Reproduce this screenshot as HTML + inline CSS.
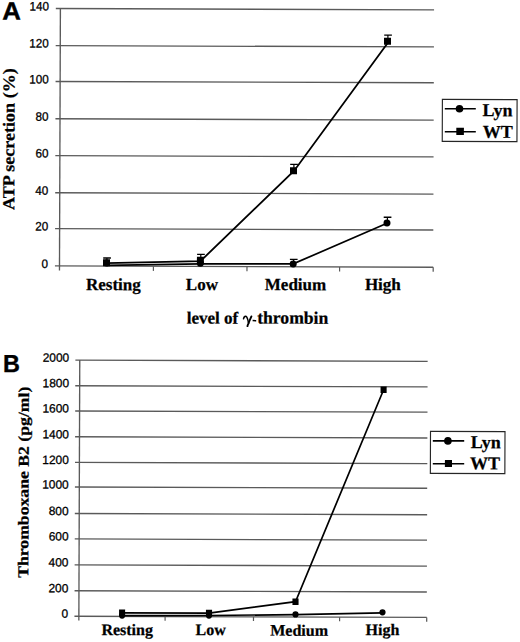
<!DOCTYPE html>
<html><head><meta charset="utf-8"><style>
html,body{margin:0;padding:0;background:#fff;}
body{width:520px;height:642px;overflow:hidden;}
svg{display:block;}
.num{font-family:"Liberation Sans",sans-serif;font-size:12.3px;fill:#000;stroke:#000;stroke-width:0.3px;}
.ttl{font-family:"Liberation Serif",serif;font-weight:bold;fill:#000;stroke:#000;stroke-width:0.25px;}
.pl{font-family:"Liberation Sans",sans-serif;font-weight:bold;fill:#000;stroke:#000;stroke-width:0.4px;}
</style></head><body>
<svg width="520" height="642" viewBox="0 0 520 642">
<g transform="rotate(0.2005 260 321)">
<line x1="54.75" y1="266.65" x2="433.00" y2="266.65" stroke="#5a5a5a" stroke-width="1.35"/>
<text transform="translate(47.90 268.65) scale(0.95 1)" class="num" text-anchor="end">0</text>
<line x1="54.75" y1="229.38" x2="433.00" y2="229.38" stroke="#5a5a5a" stroke-width="1.35"/>
<text transform="translate(47.90 231.38) scale(0.95 1)" class="num" text-anchor="end">20</text>
<line x1="54.75" y1="193.46" x2="433.00" y2="193.46" stroke="#5a5a5a" stroke-width="1.35"/>
<text transform="translate(47.90 195.46) scale(0.95 1)" class="num" text-anchor="end">40</text>
<line x1="54.75" y1="156.34" x2="433.00" y2="156.34" stroke="#5a5a5a" stroke-width="1.35"/>
<text transform="translate(47.90 158.34) scale(0.95 1)" class="num" text-anchor="end">60</text>
<line x1="54.75" y1="119.51" x2="433.00" y2="119.51" stroke="#5a5a5a" stroke-width="1.35"/>
<text transform="translate(47.90 121.51) scale(0.95 1)" class="num" text-anchor="end">80</text>
<line x1="54.75" y1="82.19" x2="433.00" y2="82.19" stroke="#5a5a5a" stroke-width="1.35"/>
<text transform="translate(47.90 84.19) scale(0.95 1)" class="num" text-anchor="end">100</text>
<line x1="54.75" y1="46.32" x2="433.00" y2="46.32" stroke="#5a5a5a" stroke-width="1.35"/>
<text transform="translate(47.90 48.32) scale(0.95 1)" class="num" text-anchor="end">120</text>
<line x1="54.75" y1="9.25" x2="433.00" y2="9.25" stroke="#5a5a5a" stroke-width="1.35"/>
<text transform="translate(47.90 11.25) scale(0.95 1)" class="num" text-anchor="end">140</text>
<line x1="59.30" y1="9.25" x2="59.30" y2="271.25" stroke="#5a5a5a" stroke-width="1.35"/>
<line x1="153.21" y1="266.65" x2="153.21" y2="271.25" stroke="#5a5a5a" stroke-width="1.2"/>
<line x1="246.81" y1="266.65" x2="246.81" y2="271.25" stroke="#5a5a5a" stroke-width="1.2"/>
<line x1="339.41" y1="266.65" x2="339.41" y2="271.25" stroke="#5a5a5a" stroke-width="1.2"/>
<line x1="433.01" y1="266.65" x2="433.01" y2="271.25" stroke="#5a5a5a" stroke-width="1.2"/>
<text transform="translate(13.76 140.01) rotate(-90) scale(1.075 1)" class="ttl" style="font-size:16.8px" text-anchor="middle">ATP secretion (%)</text>
<text x="85.89" y="290.61" class="ttl" font-size="17">Resting</text>
<text x="185.69" y="290.26" class="ttl" font-size="17">Low</text>
<text x="264.69" y="289.98" class="ttl" font-size="17">Medium</text>
<text x="364.79" y="289.63" class="ttl" font-size="17">High</text>
<text x="186.71" y="323.76" class="ttl" font-size="17">level of</text>
<path d="M243.5 318.9 C243.9 316.6 245.6 315.5 246.8 317.2 C247.7 318.7 248.2 321 248.6 323.4" stroke="#000" stroke-width="1.5" fill="none" stroke-linecap="round"/>
<path d="M251.4 316.5 C250.4 318.8 249.1 321.8 248.4 323.6 C247.9 324.8 247.5 325.6 247.5 326.2" stroke="#000" stroke-width="1.9" fill="none" stroke-linecap="round"/>
<rect x="252.6" y="319.9" width="3.6" height="1.5" fill="#000"/>
<text x="257.21" y="323.51" class="ttl" font-size="17.6">thrombin</text>
<polyline points="106.51,265.94 200.30,264.01 293.00,263.78 386.66,222.86" fill="none" stroke="#000" stroke-width="1.7"/>
<polyline points="106.50,263.74 200.29,261.31 293.67,170.58 387.82,41.05" fill="none" stroke="#000" stroke-width="1.8"/>
<circle cx="106.30" cy="263.54" r="3.5" fill="#000"/>
<circle cx="200.20" cy="263.41" r="3.5" fill="#000"/>
<line x1="293.40" y1="263.88" x2="293.38" y2="259.28" stroke="#000" stroke-width="1.2"/>
<line x1="289.68" y1="259.30" x2="297.38" y2="259.27" stroke="#000" stroke-width="1.4"/>
<circle cx="293.00" cy="263.88" r="3.5" fill="#000"/>
<line x1="387.06" y1="222.45" x2="387.04" y2="216.85" stroke="#000" stroke-width="1.2"/>
<line x1="383.34" y1="216.87" x2="391.04" y2="216.84" stroke="#000" stroke-width="1.4"/>
<circle cx="386.66" cy="222.46" r="3.5" fill="#000"/>
<line x1="106.70" y1="263.34" x2="106.68" y2="258.54" stroke="#000" stroke-width="1.2"/>
<line x1="102.98" y1="258.55" x2="110.68" y2="258.52" stroke="#000" stroke-width="1.4"/>
<rect x="102.80" y="259.84" width="7" height="7" fill="#000"/>
<line x1="200.59" y1="260.41" x2="200.57" y2="254.61" stroke="#000" stroke-width="1.2"/>
<line x1="196.87" y1="254.62" x2="204.57" y2="254.59" stroke="#000" stroke-width="1.4"/>
<rect x="196.69" y="256.91" width="7" height="7" fill="#000"/>
<line x1="293.37" y1="170.58" x2="293.35" y2="164.28" stroke="#000" stroke-width="1.2"/>
<line x1="289.65" y1="164.29" x2="297.35" y2="164.27" stroke="#000" stroke-width="1.4"/>
<rect x="289.47" y="167.08" width="7" height="7" fill="#000"/>
<line x1="386.92" y1="40.85" x2="386.90" y2="34.65" stroke="#000" stroke-width="1.2"/>
<line x1="383.20" y1="34.67" x2="390.90" y2="34.64" stroke="#000" stroke-width="1.4"/>
<rect x="383.02" y="37.35" width="7" height="7" fill="#000"/>
<rect x="441.62" y="98.76" width="74.7" height="42" fill="none" stroke="#262626" stroke-width="1.15"/>
<line x1="444.06" y1="108.15" x2="475.06" y2="108.04" stroke="#000" stroke-width="1.6"/>
<circle cx="458.76" cy="108.10" r="3.8" fill="#000"/>
<line x1="444.14" y1="131.05" x2="475.14" y2="130.94" stroke="#000" stroke-width="1.6"/>
<rect x="455.64" y="127.10" width="7.6" height="7.2" fill="#000"/>
<text x="481.68" y="115.32" class="ttl" font-size="18">Lyn</text>
<text x="482.06" y="136.92" class="ttl" font-size="18">WT</text>
<text transform="translate(1.15 20.50) scale(1.03 1)" class="pl" style="font-size:25px">A</text>
<line x1="75.50" y1="616.85" x2="427.80" y2="616.85" stroke="#5a5a5a" stroke-width="1.35"/>
<text transform="translate(69.3 618.55) scale(0.985 1)" class="num" style="font-size:12.1px" text-anchor="end">0</text>
<line x1="75.50" y1="591.39" x2="427.80" y2="591.39" stroke="#5a5a5a" stroke-width="1.35"/>
<text transform="translate(69.3 593.09) scale(0.985 1)" class="num" style="font-size:12.1px" text-anchor="end">200</text>
<line x1="75.50" y1="565.51" x2="427.80" y2="565.51" stroke="#5a5a5a" stroke-width="1.35"/>
<text transform="translate(69.3 567.21) scale(0.985 1)" class="num" style="font-size:12.1px" text-anchor="end">400</text>
<line x1="75.50" y1="539.57" x2="427.80" y2="539.57" stroke="#5a5a5a" stroke-width="1.35"/>
<text transform="translate(69.3 541.27) scale(0.985 1)" class="num" style="font-size:12.1px" text-anchor="end">600</text>
<line x1="75.50" y1="514.16" x2="427.80" y2="514.16" stroke="#5a5a5a" stroke-width="1.35"/>
<text transform="translate(69.3 515.86) scale(0.985 1)" class="num" style="font-size:12.1px" text-anchor="end">800</text>
<line x1="75.50" y1="487.65" x2="427.80" y2="487.65" stroke="#5a5a5a" stroke-width="1.35"/>
<text transform="translate(69.3 489.35) scale(0.985 1)" class="num" style="font-size:12.1px" text-anchor="end">1000</text>
<line x1="75.50" y1="463.03" x2="427.80" y2="463.03" stroke="#5a5a5a" stroke-width="1.35"/>
<text transform="translate(69.3 464.73) scale(0.985 1)" class="num" style="font-size:12.1px" text-anchor="end">1200</text>
<line x1="75.50" y1="437.42" x2="427.80" y2="437.42" stroke="#5a5a5a" stroke-width="1.35"/>
<text transform="translate(69.3 439.12) scale(0.985 1)" class="num" style="font-size:12.1px" text-anchor="end">1400</text>
<line x1="75.50" y1="411.61" x2="427.80" y2="411.61" stroke="#5a5a5a" stroke-width="1.35"/>
<text transform="translate(69.3 413.31) scale(0.985 1)" class="num" style="font-size:12.1px" text-anchor="end">1600</text>
<line x1="75.50" y1="386.35" x2="427.80" y2="386.35" stroke="#5a5a5a" stroke-width="1.35"/>
<text transform="translate(69.3 388.05) scale(0.985 1)" class="num" style="font-size:12.1px" text-anchor="end">1800</text>
<line x1="75.50" y1="360.74" x2="427.80" y2="360.74" stroke="#5a5a5a" stroke-width="1.35"/>
<text transform="translate(69.3 362.44) scale(0.985 1)" class="num" style="font-size:12.1px" text-anchor="end">2000</text>
<line x1="79.90" y1="360.74" x2="79.90" y2="621.05" stroke="#5a5a5a" stroke-width="1.35"/>
<line x1="166.14" y1="616.85" x2="166.14" y2="621.05" stroke="#5a5a5a" stroke-width="1.2"/>
<line x1="254.54" y1="616.85" x2="254.54" y2="621.05" stroke="#5a5a5a" stroke-width="1.2"/>
<line x1="340.64" y1="616.85" x2="340.64" y2="621.05" stroke="#5a5a5a" stroke-width="1.2"/>
<line x1="427.74" y1="616.85" x2="427.74" y2="621.05" stroke="#5a5a5a" stroke-width="1.2"/>
<text transform="translate(29.16 483.06) rotate(-90) scale(1.164 1)" class="ttl" style="font-size:15.2px" text-anchor="middle">Thromboxane B2 (pg/ml)</text>
<text x="102.50" y="635.56" class="ttl" font-size="16">Resting</text>
<text x="196.70" y="635.23" class="ttl" font-size="16">Low</text>
<text x="271.30" y="635.56" class="ttl" font-size="16">Medium</text>
<text x="366.60" y="634.63" class="ttl" font-size="16">High</text>
<polyline points="123.13,616.08 210.03,615.68 296.53,614.48 383.52,612.47" fill="none" stroke="#000" stroke-width="1.7"/>
<polyline points="123.12,613.28 210.02,613.28 296.48,601.58 383.84,389.27" fill="none" stroke="#000" stroke-width="1.7"/>
<circle cx="123.13" cy="616.08" r="3.1" fill="#000"/>
<circle cx="210.03" cy="615.78" r="3.1" fill="#000"/>
<circle cx="296.53" cy="614.28" r="3.1" fill="#000"/>
<circle cx="383.52" cy="611.87" r="3.1" fill="#000"/>
<rect x="120.07" y="609.98" width="6.1" height="6.6" fill="#000"/>
<rect x="206.97" y="609.98" width="6.1" height="6.6" fill="#000"/>
<rect x="293.43" y="598.28" width="6.1" height="6.6" fill="#000"/>
<rect x="380.79" y="385.97" width="6.1" height="6.6" fill="#000"/>
<rect x="430.89" y="430.80" width="74.5" height="42" fill="none" stroke="#262626" stroke-width="1.15"/>
<line x1="433.22" y1="440.30" x2="464.62" y2="440.19" stroke="#000" stroke-width="1.6"/>
<circle cx="448.32" cy="440.24" r="3.8" fill="#000"/>
<line x1="433.30" y1="463.20" x2="464.70" y2="463.09" stroke="#000" stroke-width="1.6"/>
<rect x="445.40" y="459.34" width="7.1" height="7" fill="#000"/>
<text x="471.24" y="447.36" class="ttl" font-size="18">Lyn</text>
<text x="470.52" y="468.56" class="ttl" font-size="18">WT</text>
<text transform="translate(3.18 372.90) scale(0.95 1)" class="pl" style="font-size:24.6px">B</text>
</g>
</svg>
</body></html>
